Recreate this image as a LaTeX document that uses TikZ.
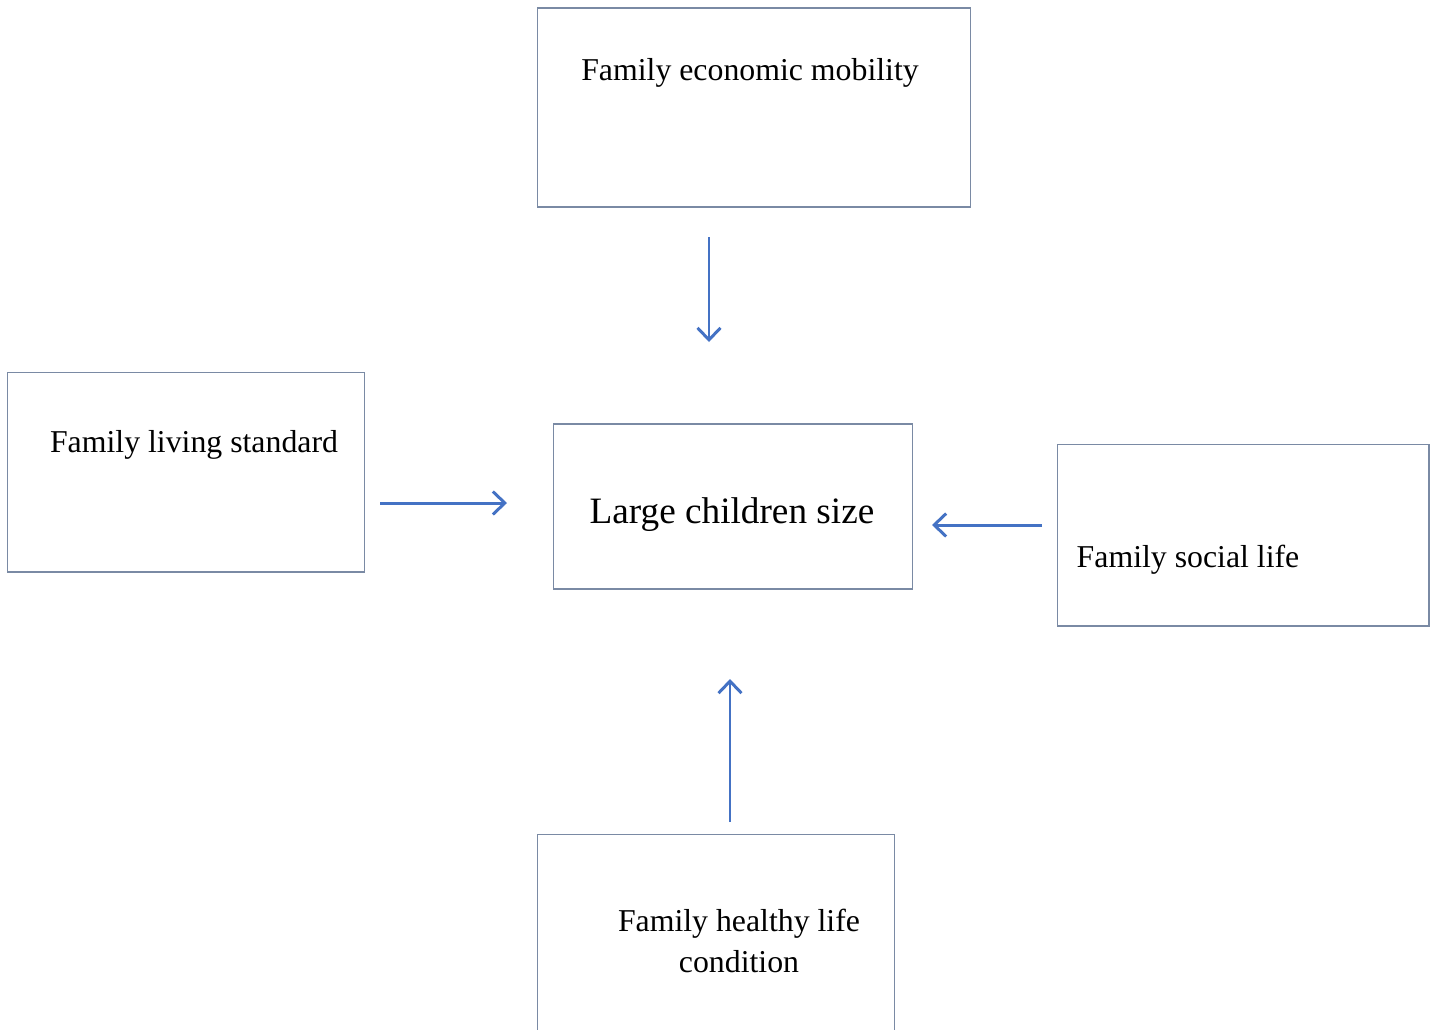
\documentclass[tikz,border=0pt]{standalone}
\usepackage{fontspec}
\setmainfont{Liberation Serif}
\usetikzlibrary{arrows.meta}
\definecolor{boxline}{RGB}{122,138,164}
\definecolor{arrowblue}{RGB}{68,114,196}

\begin{document}
\begin{tikzpicture}[
                x=0.02cm, y=-0.02cm,
                >={Straight Barb[length=0.24cm,width=0.46cm]},
                box/.style={draw=boxline, line width=0.6pt, rectangle, inner sep=0pt},
                lbl/.style={anchor=base, inner sep=0pt, font=\fontsize{18.1}{23}\selectfont},
                flow/.style={->, draw=arrowblue, line width=1.7pt}
                ]
                \useasboundingbox (0,0) rectangle (1431,1029);

                \node [box, minimum width=8.68cm, minimum height=3.98cm] (econ) at (754,107.5) {};
                \node [box, minimum width=7.16cm, minimum height=4cm] (living) at (186,472) {};
                \node [box, minimum width=7.2cm, minimum height=3.3cm] (large) at (733,506.5) {};
                \node [box, minimum width=7.44cm, minimum height=3.64cm] (social) at (1243,535) {};
                \node [box, minimum width=7.16cm, minimum height=4.4cm] (health) at (716,944) {};

                \node [lbl] (econtxt) at (750,80) {Family economic mobility};
                \node [lbl] (livingtxt) at (194,452) {Family living standard};
                \node [lbl, font=\fontsize{21.2}{25}\selectfont] (largetxt) at (732,523) {Large children size};
                \node [lbl] (socialtxt) at (1188,567) {Family social life};
                \node [lbl, align=center] (healthtxt) at (739,972) {Family healthy life\\condition};

                \coordinate (econout) at (709,237);
                \coordinate (econin) at (709,342);
                \coordinate (livingout) at (380,503);
                \coordinate (livingin) at (507,503);
                \coordinate (socialout) at (1042,525);
                \coordinate (socialin) at (932,525);
                \coordinate (healthout) at (730,822);
                \coordinate (healthin) at (730,679);

                \draw[flow] (econout) -- (econin);
                \draw[flow] (livingout) -- (livingin);
                \draw[flow] (socialout) -- (socialin);
                \draw[flow] (healthout) -- (healthin);
            \end{tikzpicture}
\end{document}
